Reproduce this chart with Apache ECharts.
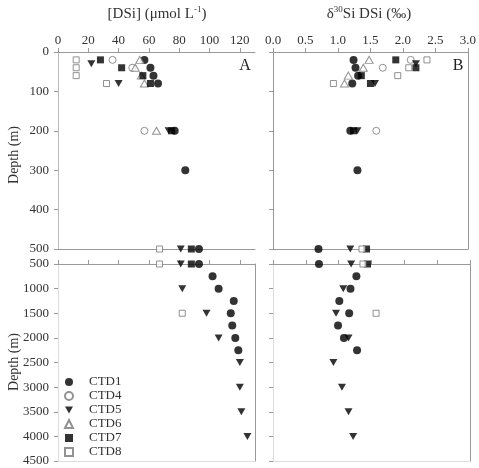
<!DOCTYPE html>
<html>
<head>
<meta charset="utf-8">
<script src="https://cdn.jsdelivr.net/npm/echarts@6/dist/echarts.min.js"></script>
<style>html,body{margin:0;padding:0;background:#fff}#c{width:479px;height:468px}</style>
</head>
<body>
<div id="c"></div>
<script>
// ---- data ----
const ctdNames = ['CTD1', 'CTD4', 'CTD5', 'CTD6', 'CTD7', 'CTD8'];

const ctd1Depth = [20, 40, 60, 80, 200, 300, 500, 750, 1000, 1250, 1500, 1750, 2000, 2250];
const ctd1DSi   = [57, 61, 63, 66, 77, 84, 93, 102, 106, 116, 114, 115, 117, 119];
const ctd1D30   = [1.24, 1.27, 1.31, 1.22, 1.19, 1.30, 0.70, 1.27, 1.18, 1.01, 1.16, 0.99, 1.08, 1.28];

const ctd4Depth = [20, 40, 200];
const ctd4DSi   = [36, 49, 57];
const ctd4D30   = [2.12, 1.69, 1.59];

const ctd5Depth = [30, 80, 200, 500, 1000, 1500, 2000, 2500, 3000, 3500, 4000];
const ctd5DSi   = [22, 40, 73, 81, 82, 98, 106, 120, 120, 121, 125];
const ctd5D30   = [2.20, 1.57, 1.30, 1.19, 1.07, 0.96, 1.15, 0.92, 1.05, 1.15, 1.22];

const ctd6Depth = [20, 40, 60, 80, 200];
const ctd6DSi   = [54, 51, 55, 57, 65];
const ctd6D30   = [1.48, 1.39, 1.16, 1.10, null];

const ctd7Depth = [20, 40, 60, 80, 200, 500];
const ctd7DSi   = [28, 42, 56, 61, 75, 88];
const ctd7D30   = [1.89, 2.20, 1.36, 1.50, 1.24, 1.44];

const ctd8Depth = [20, 40, 60, 80, 500, 1500];
const ctd8DSi   = [12, 12, 12, 32, 67, 82];
const ctd8D30   = [2.37, 2.09, 1.92, 0.93, 1.37, 1.57];

const dsiTicks = [0, 20, 40, 60, 80, 100, 120];
const d30Ticks = [0, 0.5, 1.0, 1.5, 2.0, 2.5, 3.0];

// ---- styling ----
const FONT = "'Liberation Serif','Times New Roman',serif";
const AX = '#999';
const TXT = '#333';
const OPEN = '#777';
const downTri = 'path://M0,0 L10,0 L5,9 Z';

const ctdDepths = [ctd1Depth, ctd4Depth, ctd5Depth, ctd6Depth, ctd7Depth, ctd8Depth];
const ctdDSi = [ctd1DSi, ctd4DSi, ctd5DSi, ctd6DSi, ctd7DSi, ctd8DSi];
const ctdD30 = [ctd1D30, ctd4D30, ctd5D30, ctd6D30, ctd7D30, ctd8D30];
const markers = [
  {symbol: 'circle', size: 8, itemStyle: {color: '#000'}},
  {symbol: 'circle', size: 7, itemStyle: {color: '#fff', borderColor: OPEN, borderWidth: 1}},
  {symbol: downTri, size: [8, 7], itemStyle: {color: '#000'}},
  {symbol: 'triangle', size: [8, 7], itemStyle: {color: '#fff', borderColor: OPEN, borderWidth: 1}},
  {symbol: 'rect', size: 7, itemStyle: {color: '#000'}},
  {symbol: 'rect', size: 6, itemStyle: {color: '#fff', borderColor: OPEN, borderWidth: 1}}
];

const grids = [
  {left: 58, top: 52, width: 197, height: 197},
  {left: 58, top: 264, width: 197, height: 197},
  {left: 273, top: 52, width: 196, height: 197},
  {left: 273, top: 264, width: 197, height: 197}
];

const xAxes = [];
const yAxes = [];
function lineOnly(g, pos, color, isX, min, max) {
  const a = {gridIndex: g, type: 'value', position: pos, min: min, max: max,
    axisLine: {show: true, onZero: false, lineStyle: {color: color}},
    axisTick: {show: false}, axisLabel: {show: false}, splitLine: {show: false}};
  (isX ? xAxes : yAxes).push(a);
}
// main x axes (index 0..3)
[[0, 130, dsiTicks, true], [0, 130, dsiTicks, false], [0, 3, d30Ticks, true], [0, 3, d30Ticks, false]].forEach((d, g) => {
  xAxes.push({gridIndex: g, type: 'value', position: 'top', min: d[0], max: d[1],
    axisLine: {show: true, onZero: false, lineStyle: {color: AX}},
    axisTick: {show: true, length: 4, customValues: d[2], lineStyle: {color: AX}},
    axisLabel: {show: d[3], customValues: d[2], fontFamily: FONT, fontSize: 13, color: TXT, margin: 5,
      formatter: v => (g >= 2 ? v.toFixed(1) : String(v))},
    splitLine: {show: false}});
});
// main y axes (index 0..3)
[[0, 500, 100, true, '#bbb'], [500, 4500, 500, true, '#ddd'], [0, 500, 100, false, AX], [500, 4500, 500, false, '#ddd']].forEach((d, g) => {
  yAxes.push({gridIndex: g, type: 'value', inverse: true, min: d[0], max: d[1], interval: d[2],
    axisLine: {show: true, onZero: false, lineStyle: {color: d[4]}},
    axisTick: {show: true, length: 4, lineStyle: {color: AX}},
    axisLabel: {show: d[3], fontFamily: FONT, fontSize: 13, color: TXT, margin: 9, formatter: v => String(v)},
    splitLine: {show: false}});
});
// frame lines
lineOnly(0, 'bottom', AX, true, 0, 130);
lineOnly(1, 'bottom', '#ddd', true, 0, 130);
lineOnly(2, 'bottom', AX, true, 0, 3);
lineOnly(3, 'bottom', '#ddd', true, 0, 3);
lineOnly(1, 'right', AX, false, 500, 4500);
lineOnly(2, 'right', AX, false, 0, 500);
lineOnly(3, 'right', AX, false, 500, 4500);

const series = [];
ctdNames.forEach((name, i) => {
  for (let g = 0; g < 4; g++) {
    const vals = g < 2 ? ctdDSi[i] : ctdD30[i];
    const upper = (g % 2 === 0);
    const data = [];
    ctdDepths[i].forEach((dep, k) => {
      const v = vals[k];
      if (v == null) return;
      if (upper ? dep <= 500 : dep >= 500) data.push([v, dep]);
    });
    series.push({
      name: name, type: 'scatter', xAxisIndex: g, yAxisIndex: g, clip: false,
      symbol: markers[i].symbol, symbolSize: markers[i].size,
      itemStyle: markers[i].itemStyle, data: data, silent: true
    });
  }
});

const chart = echarts.init(document.getElementById('c'), null, {renderer: 'canvas'});
chart.setOption({
  animation: false,
  backgroundColor: '#fff',
  grid: grids,
  xAxis: xAxes,
  yAxis: yAxes,
  legend: {
    data: ctdNames, orient: 'vertical', left: 64, top: 375, padding: 0,
    itemWidth: 8, itemHeight: 8, itemGap: 0,
    textStyle: {fontFamily: FONT, fontSize: 13, color: TXT, lineHeight: 14, padding: [0, 0, 0, 11]},
    selectedMode: false
  },
  graphic: [
    {type: 'text', x: 157, y: 14, style: {text: '{a|[DSi] (μmol L}{s|-1}{a|)}', align: 'center', verticalAlign: 'middle',
      rich: {a: {fontFamily: FONT, fontSize: 15, lineHeight: 18, fill: TXT}, s: {fontFamily: FONT, fontSize: 9, lineHeight: 8, verticalAlign: 'top', fill: TXT}}}},
    {type: 'text', x: 369, y: 14, style: {text: '{a|δ}{s|30}{a|Si DSi (‰)}', align: 'center', verticalAlign: 'middle',
      rich: {a: {fontFamily: FONT, fontSize: 15, lineHeight: 18, fill: TXT}, s: {fontFamily: FONT, fontSize: 9, lineHeight: 8, verticalAlign: 'top', fill: TXT}}}},
    {type: 'text', x: 245, y: 66, style: {text: 'A', font: '16px ' + FONT, fill: '#222', align: 'center', verticalAlign: 'middle'}},
    {type: 'text', x: 458, y: 66, style: {text: 'B', font: '16px ' + FONT, fill: '#222', align: 'center', verticalAlign: 'middle'}},
    {type: 'text', x: 14, y: 155, rotation: Math.PI / 2, style: {text: 'Depth (m)', font: '14px ' + FONT, fill: TXT, align: 'center', verticalAlign: 'middle'}},
    {type: 'text', x: 14, y: 362, rotation: Math.PI / 2, style: {text: 'Depth (m)', font: '14px ' + FONT, fill: TXT, align: 'center', verticalAlign: 'middle'}}
  ],
  series: series
});
</script>
</body>
</html>
